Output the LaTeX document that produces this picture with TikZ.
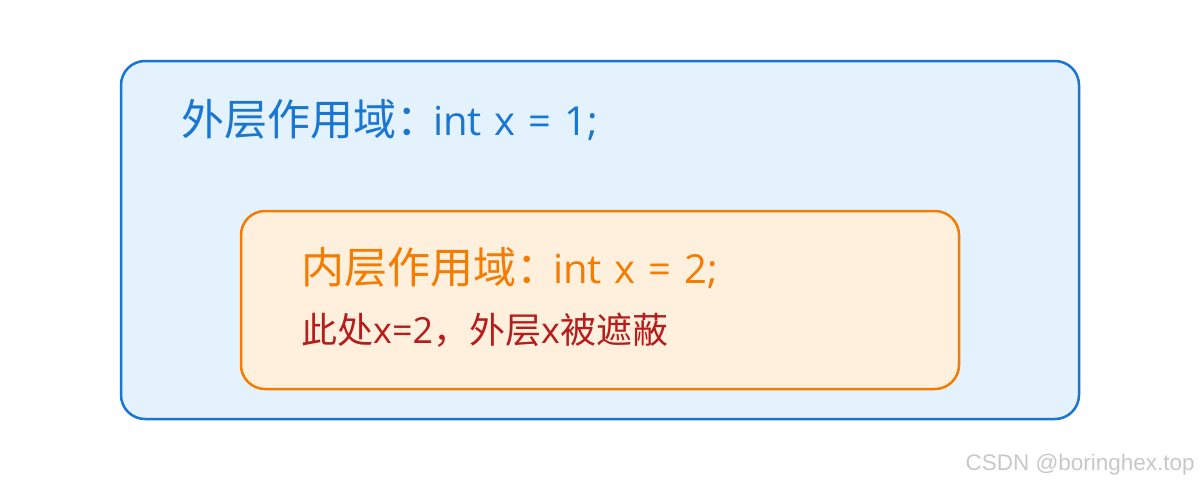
\documentclass[tikz,border=0pt]{standalone}
\usepackage{fontspec}
\setmainfont{Noto Sans CJK SC}
\newfontfamily\latinfont[WordSpace=1.25]{Open Sans}
\newfontfamily\wmfont{Liberation Sans}
\newcommand\titlelatin[1]{\hspace{-6pt}{\latinfont\fontsize{40}{46}\selectfont #1}}
\definecolor{outerline}{HTML}{1976D2}
\definecolor{outerfill}{HTML}{E3F2FD}
\definecolor{innerline}{HTML}{F57C00}
\definecolor{innerfill}{HTML}{FFF0DE}
\definecolor{redtext}{HTML}{B71C1C}
\definecolor{wmgray}{HTML}{C8C8C8}
\tikzset{
  scopebox/.style={line width=2.5pt, rounded corners=24pt},
  titletext/.style={anchor=base west, inner sep=0pt, font=\fontsize{43}{46}\selectfont},
  notetext/.style={anchor=base west, inner sep=0pt, font=\fontsize{36}{40}\selectfont, text=redtext},
}
\begin{document}
\begin{tikzpicture}[x=1pt,y=-1pt]
\useasboundingbox[fill=white] (0,0) rectangle (1200,480);
\draw[scopebox, draw=outerline, fill=outerfill] (121,61) rectangle (1079,419);
\node[titletext, text=outerline] (outertitle) at (181,135) {外层作用域：\titlelatin{int x = 1;}};
\draw[scopebox, draw=innerline, fill=innerfill] (241,211) rectangle (959,389);
\node[titletext, text=innerline] (innertitle) at (301,283) {内层作用域：\titlelatin{int x = 2;}};
\node[notetext] (note) at (301,343) {此处{\latinfont x=2}，外层{\latinfont x}被遮蔽};
\node[anchor=base east, inner sep=0pt, text=wmgray, font=\wmfont\fontsize{22.5}{25}\selectfont] (wm) at (1195,470) {CSDN @boringhex.top};
\end{tikzpicture}
\end{document}
